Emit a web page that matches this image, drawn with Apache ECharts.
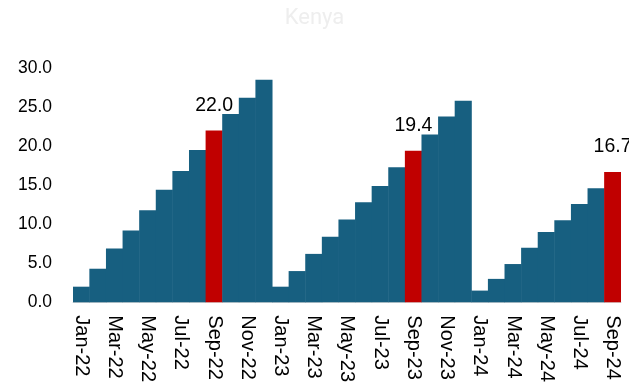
<!DOCTYPE html>
<html><head><meta charset="utf-8">
<script src="https://cdn.jsdelivr.net/npm/echarts@6/dist/echarts.min.js"></script>
<style>html,body{margin:0;padding:0;background:#fff}#c{width:629px;height:385px}</style>
</head><body><div id="c"></div>
<script>
const categories = ["Jan-22","Feb-22","Mar-22","Apr-22","May-22","Jun-22","Jul-22","Aug-22","Sep-22","Oct-22","Nov-22","Dec-22",
"Jan-23","Feb-23","Mar-23","Apr-23","May-23","Jun-23","Jul-23","Aug-23","Sep-23","Oct-23","Nov-23","Dec-23",
"Jan-24","Feb-24","Mar-24","Apr-24","May-24","Jun-24","Jul-24","Aug-24","Sep-24"];
const values = [2.0,4.3,6.9,9.2,11.8,14.4,16.8,19.5,22.0,24.1,26.2,28.5,
2.0,4.0,6.2,8.4,10.6,12.8,14.9,17.3,19.4,21.5,23.8,25.8,
1.5,3.0,4.9,7.0,9.0,10.5,12.6,14.6,16.7];
const highlighted = ["Sep-22","Sep-23","Sep-24"];
const yTicks = {min:0, max:30, interval:5};

const chart = echarts.init(document.getElementById('c'));
const font = '"Liberation Sans", Arial, sans-serif';
chart.setOption({
  animation:false,
  title:{text:'Kenya', left:'center', top:2, textStyle:{color:'#eeeeee', fontSize:22, fontWeight:'normal', fontFamily:'Roboto, sans-serif'}},
  grid:{left:73, right:8, top:68, bottom:81},
  xAxis:{type:'category', data:categories,
    axisLine:{lineStyle:{color:'#d9d9d9', width:1}}, axisTick:{show:false},
    axisLabel:{interval:1, rotate:-90, color:'#000', fontSize:20, fontFamily:font, margin:13}},
  yAxis:{type:'value', min:yTicks.min, max:yTicks.max, interval:yTicks.interval,
    splitLine:{show:false}, axisLine:{show:false}, axisTick:{show:false},
    axisLabel:{color:'#000', fontSize:17.5, fontFamily:font, margin:21, formatter:v=>v.toFixed(1)}},
  series:[{type:'bar', barCategoryGap:'-3%', z:2,
    data: values.map((v,i)=>{
      const hl = highlighted.includes(categories[i]);
      const c = hl?'#c00000':'#175f80';
      return {value:v, itemStyle:{color:c},
        label: hl?{show:true, position:'top', distance:15, formatter:p=>p.value.toFixed(1), color:'#000', fontSize:19.5, fontFamily:font}:{show:false}};
    })
  }]
});
</script></body></html>
